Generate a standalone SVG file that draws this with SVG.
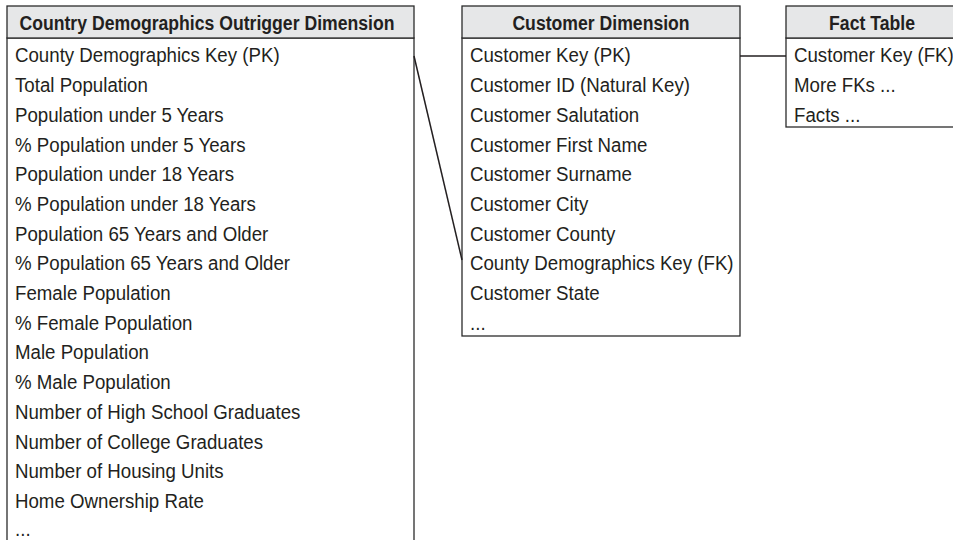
<svg xmlns="http://www.w3.org/2000/svg" width="953" height="540" viewBox="0 0 953 540">
<style>
.box{fill:#fff;stroke:#2b2b2b;stroke-width:1.3}
.hdr{fill:#e6e7e8;stroke:#2b2b2b;stroke-width:1.3}
.t{font-family:"Liberation Sans",Arial,sans-serif;font-size:21px;fill:#231f20}
.h{font-family:"Liberation Sans",Arial,sans-serif;font-size:21px;font-weight:bold;fill:#231f20;text-anchor:middle}
.c{stroke:#231f20;stroke-width:1.5;fill:none}
</style>
<rect width="953" height="540" fill="#fff"/>
<g id="outrigger">
<rect class="box" x="7" y="38" width="407" height="520"/>
<rect class="hdr" x="7" y="6" width="407" height="32"/>
<g transform="matrix(0.84 0 0 1 207 0)"><text class="h" x="0" y="30">Country Demographics Outrigger Dimension</text></g>
<g transform="matrix(0.89 0 0 1 15 0)">
<text class="t" x="0" y="62.5">County Demographics Key (PK)</text>
<text class="t" x="0" y="92.2">Total Population</text>
<text class="t" x="0" y="121.9">Population under 5 Years</text>
<text class="t" x="0" y="151.6">% Population under 5 Years</text>
<text class="t" x="0" y="181.3">Population under 18 Years</text>
<text class="t" x="0" y="211">% Population under 18 Years</text>
<text class="t" x="0" y="240.7">Population 65 Years and Older</text>
<text class="t" x="0" y="270.4">% Population 65 Years and Older</text>
<text class="t" x="0" y="300.1">Female Population</text>
<text class="t" x="0" y="329.8">% Female Population</text>
<text class="t" x="0" y="359.5">Male Population</text>
<text class="t" x="0" y="389.2">% Male Population</text>
<text class="t" x="0" y="418.9">Number of High School Graduates</text>
<text class="t" x="0" y="448.6">Number of College Graduates</text>
<text class="t" x="0" y="478.3">Number of Housing Units</text>
<text class="t" x="0" y="508">Home Ownership Rate</text>
<text class="t" x="0" y="536">...</text>
</g>
</g>
<g id="customer">
<rect class="box" x="462" y="38" width="278" height="298"/>
<rect class="hdr" x="462" y="6" width="278" height="32"/>
<g transform="matrix(0.84 0 0 1 601 0)"><text class="h" x="0" y="30">Customer Dimension</text></g>
<g transform="matrix(0.89 0 0 1 470 0)">
<text class="t" x="0" y="62.5">Customer Key (PK)</text>
<text class="t" x="0" y="92.2">Customer ID (Natural Key)</text>
<text class="t" x="0" y="121.9">Customer Salutation</text>
<text class="t" x="0" y="151.6">Customer First Name</text>
<text class="t" x="0" y="181.3">Customer Surname</text>
<text class="t" x="0" y="211">Customer City</text>
<text class="t" x="0" y="240.7">Customer County</text>
<text class="t" x="0" y="270.4">County Demographics Key (FK)</text>
<text class="t" x="0" y="300.1">Customer State</text>
<text class="t" x="0" y="329.8">...</text>
</g>
</g>
<g id="fact">
<rect class="box" x="786" y="38" width="200" height="89"/>
<rect class="hdr" x="786" y="6" width="200" height="32"/>
<g transform="matrix(0.84 0 0 1 872 0)"><text class="h" x="0" y="30">Fact Table</text></g>
<g transform="matrix(0.89 0 0 1 794 0)">
<text class="t" x="0" y="62.5">Customer Key (FK)</text>
<text class="t" x="0" y="92.2">More FKs ...</text>
<text class="t" x="0" y="121.9">Facts ...</text>
</g>
</g>
<g id="connectors">
<line class="c" x1="414" y1="56" x2="462" y2="260"/>
<line class="c" x1="740" y1="56" x2="786" y2="56"/>
</g>
</svg>
